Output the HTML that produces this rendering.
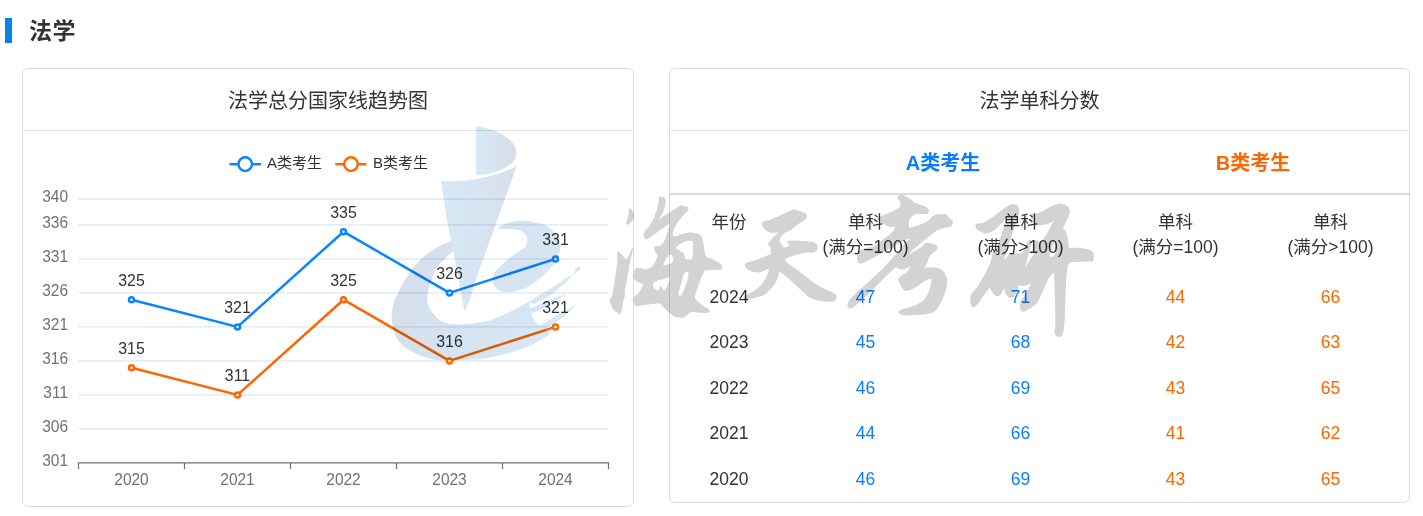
<!DOCTYPE html>
<html lang="zh-CN">
<head>
<meta charset="utf-8">
<title>法学</title>
<style>
html,body{margin:0;padding:0;background:#fff;}
body{width:1423px;height:516px;position:relative;overflow:hidden;font-family:"Liberation Sans","Noto Sans CJK SC",sans-serif;color:#333;}
.abs{position:absolute;}
.bar{left:5px;top:18px;width:7px;height:25px;background:#0a82ee;}
.h1{left:29px;top:15px;font-size:23px;letter-spacing:0.5px;font-weight:bold;line-height:32px;color:#333;white-space:nowrap;}
.card{position:absolute;border:1px solid #dcdcdc;border-radius:6px;box-sizing:border-box;}
#c1{left:22px;top:68px;width:612px;height:439px;}
#c2{left:669px;top:68px;width:741px;height:435px;}
.hline{position:absolute;height:1px;background:#dfdfdf;}
.t{position:absolute;white-space:nowrap;text-align:center;}
.title{font-size:20px;line-height:24px;color:#333;}
.th{font-size:17.5px;line-height:24.5px;color:#333;}
.td{font-size:17.5px;line-height:25px;}
.hd{font-size:20px;line-height:24px;font-weight:bold;}
.blue{color:#0a7dff;}
.orange{color:#ff6600;}
</style>
</head>
<body>
<div class="abs bar"></div>
<div class="abs h1">法学</div>
<div class="card" id="c1"></div>
<div class="card" id="c2"></div>
<div class="t title" style="left:22px;width:612px;top:89px;">法学总分国家线趋势图</div>
<div class="hline" style="left:24px;width:608px;top:130px;"></div>
<svg class="abs" style="left:0;top:0" width="1423" height="516" viewBox="0 0 1423 516">
<g stroke="#E0E6F1" stroke-width="1.25" fill="none">
<line x1="78.5" x2="608.5" y1="199.00" y2="199.00"/>
<line x1="78.5" x2="608.5" y1="224.90" y2="224.90"/>
<line x1="78.5" x2="608.5" y1="258.90" y2="258.90"/>
<line x1="78.5" x2="608.5" y1="292.90" y2="292.90"/>
<line x1="78.5" x2="608.5" y1="326.90" y2="326.90"/>
<line x1="78.5" x2="608.5" y1="360.90" y2="360.90"/>
<line x1="78.5" x2="608.5" y1="394.90" y2="394.90"/>
<line x1="78.5" x2="608.5" y1="428.90" y2="428.90"/>
</g>
<g stroke="#6E7079" stroke-width="1.25" fill="none">
<line x1="77.9" x2="609.1" y1="462.9" y2="462.9"/>
<line x1="78.5" x2="78.5" y1="462.9" y2="469"/>
<line x1="184.5" x2="184.5" y1="462.9" y2="469"/>
<line x1="290.5" x2="290.5" y1="462.9" y2="469"/>
<line x1="396.5" x2="396.5" y1="462.9" y2="469"/>
<line x1="502.5" x2="502.5" y1="462.9" y2="469"/>
<line x1="608.5" x2="608.5" y1="462.9" y2="469"/>
</g>
<g font-family="Liberation Sans, Noto Sans CJK SC, sans-serif">
<text transform="translate(68 202.4) scale(1 1.05)" text-anchor="end" fill="#6E7079" font-size="15.5">340</text>
<text transform="translate(68 228.3) scale(1 1.05)" text-anchor="end" fill="#6E7079" font-size="15.5">336</text>
<text transform="translate(68 262.3) scale(1 1.05)" text-anchor="end" fill="#6E7079" font-size="15.5">331</text>
<text transform="translate(68 296.3) scale(1 1.05)" text-anchor="end" fill="#6E7079" font-size="15.5">326</text>
<text transform="translate(68 330.3) scale(1 1.05)" text-anchor="end" fill="#6E7079" font-size="15.5">321</text>
<text transform="translate(68 364.3) scale(1 1.05)" text-anchor="end" fill="#6E7079" font-size="15.5">316</text>
<text transform="translate(68 398.3) scale(1 1.05)" text-anchor="end" fill="#6E7079" font-size="15.5">311</text>
<text transform="translate(68 432.3) scale(1 1.05)" text-anchor="end" fill="#6E7079" font-size="15.5">306</text>
<text transform="translate(68 466.3) scale(1 1.05)" text-anchor="end" fill="#6E7079" font-size="15.5">301</text>
<text transform="translate(131.5 484.5) scale(1 1.05)" text-anchor="middle" fill="#6E7079" font-size="15.5">2020</text>
<text transform="translate(237.5 484.5) scale(1 1.05)" text-anchor="middle" fill="#6E7079" font-size="15.5">2021</text>
<text transform="translate(343.5 484.5) scale(1 1.05)" text-anchor="middle" fill="#6E7079" font-size="15.5">2022</text>
<text transform="translate(449.5 484.5) scale(1 1.05)" text-anchor="middle" fill="#6E7079" font-size="15.5">2023</text>
<text transform="translate(555.5 484.5) scale(1 1.05)" text-anchor="middle" fill="#6E7079" font-size="15.5">2024</text>
</g>
<g fill="#fff" stroke-width="2.5">
<line x1="229.5" x2="261" y1="164.2" y2="164.2" stroke="#0a84ff"/>
<circle cx="245.2" cy="164.1" r="6.8" stroke="#0a84ff"/>
<line x1="335.3" x2="366.5" y1="164.2" y2="164.2" stroke="#ff6600"/>
<circle cx="351" cy="164.1" r="6.8" stroke="#ff6600"/>
</g>
<g font-family="Liberation Sans, Noto Sans CJK SC, sans-serif" font-size="15" fill="#333"><text x="267" y="168">A类考生</text><text x="373" y="168">B类考生</text></g>
<polyline fill="none" stroke="#0a84ff" stroke-width="2.5" stroke-linejoin="round" points="131.5,299.70 237.5,326.90 343.5,231.70 449.5,292.90 555.5,258.90"/>
<polyline fill="none" stroke="#ff6600" stroke-width="2.5" stroke-linejoin="round" points="131.5,367.70 237.5,394.90 343.5,299.70 449.5,360.90 555.5,326.90"/>
<g fill="#fff" stroke="#0a84ff" stroke-width="2.5">
<circle cx="131.5" cy="299.70" r="2.5"/>
<circle cx="237.5" cy="326.90" r="2.5"/>
<circle cx="343.5" cy="231.70" r="2.5"/>
<circle cx="449.5" cy="292.90" r="2.5"/>
<circle cx="555.5" cy="258.90" r="2.5"/>
</g>
<g fill="#fff" stroke="#ff6600" stroke-width="2.5">
<circle cx="131.5" cy="367.70" r="2.5"/>
<circle cx="237.5" cy="394.90" r="2.5"/>
<circle cx="343.5" cy="299.70" r="2.5"/>
<circle cx="449.5" cy="360.90" r="2.5"/>
<circle cx="555.5" cy="326.90" r="2.5"/>
</g>
<g font-family="Liberation Sans, Noto Sans CJK SC, sans-serif">
<text transform="translate(131.5 286.1) scale(1.02 1.0)" text-anchor="middle" fill="#333" font-size="15.6">325</text>
<text transform="translate(237.5 313.3) scale(1.02 1.0)" text-anchor="middle" fill="#333" font-size="15.6">321</text>
<text transform="translate(343.5 218.1) scale(1.02 1.0)" text-anchor="middle" fill="#333" font-size="15.6">335</text>
<text transform="translate(449.5 279.3) scale(1.02 1.0)" text-anchor="middle" fill="#333" font-size="15.6">326</text>
<text transform="translate(555.5 245.3) scale(1.02 1.0)" text-anchor="middle" fill="#333" font-size="15.6">331</text>
<text transform="translate(131.5 354.1) scale(1.02 1.0)" text-anchor="middle" fill="#333" font-size="15.6">315</text>
<text transform="translate(237.5 381.3) scale(1.02 1.0)" text-anchor="middle" fill="#333" font-size="15.6">311</text>
<text transform="translate(343.5 286.1) scale(1.02 1.0)" text-anchor="middle" fill="#333" font-size="15.6">325</text>
<text transform="translate(449.5 347.3) scale(1.02 1.0)" text-anchor="middle" fill="#333" font-size="15.6">316</text>
<text transform="translate(555.5 313.3) scale(1.02 1.0)" text-anchor="middle" fill="#333" font-size="15.6">321</text>
</g>
</svg>
<div class="t title" style="left:669px;width:741px;top:89px;">法学单科分数</div>
<div class="hline" style="left:670px;width:739px;top:130px;"></div>
<div class="t hd blue" style="left:788px;width:310px;top:151px;">A类考生</div>
<div class="t hd orange" style="left:1098px;width:310px;top:151px;">B类考生</div>
<div class="hline" style="left:670px;width:739px;top:193px;height:2px;background:#dadada;"></div>
<div class="t th" style="left:670px;width:118px;top:210.3px;">年份</div>
<div class="t th" style="left:788px;width:155px;top:210.3px;">单科<br>(满分=100)</div>
<div class="t th" style="left:943px;width:155px;top:210.3px;">单科<br>(满分&gt;100)</div>
<div class="t th" style="left:1098px;width:155px;top:210.3px;">单科<br>(满分=100)</div>
<div class="t th" style="left:1253px;width:155px;top:210.3px;">单科<br>(满分&gt;100)</div>
<div class="t td" style="left:670px;width:118px;top:285.2px;">2024</div>
<div class="t td blue" style="left:788px;width:155px;top:285.2px;">47</div>
<div class="t td blue" style="left:943px;width:155px;top:285.2px;">71</div>
<div class="t td orange" style="left:1098px;width:155px;top:285.2px;">44</div>
<div class="t td orange" style="left:1253px;width:155px;top:285.2px;">66</div>
<div class="t td" style="left:670px;width:118px;top:330.2px;">2023</div>
<div class="t td blue" style="left:788px;width:155px;top:330.2px;">45</div>
<div class="t td blue" style="left:943px;width:155px;top:330.2px;">68</div>
<div class="t td orange" style="left:1098px;width:155px;top:330.2px;">42</div>
<div class="t td orange" style="left:1253px;width:155px;top:330.2px;">63</div>
<div class="t td" style="left:670px;width:118px;top:376.0px;">2022</div>
<div class="t td blue" style="left:788px;width:155px;top:376.0px;">46</div>
<div class="t td blue" style="left:943px;width:155px;top:376.0px;">69</div>
<div class="t td orange" style="left:1098px;width:155px;top:376.0px;">43</div>
<div class="t td orange" style="left:1253px;width:155px;top:376.0px;">65</div>
<div class="t td" style="left:670px;width:118px;top:421.0px;">2021</div>
<div class="t td blue" style="left:788px;width:155px;top:421.0px;">44</div>
<div class="t td blue" style="left:943px;width:155px;top:421.0px;">66</div>
<div class="t td orange" style="left:1098px;width:155px;top:421.0px;">41</div>
<div class="t td orange" style="left:1253px;width:155px;top:421.0px;">62</div>
<div class="t td" style="left:670px;width:118px;top:467.0px;">2020</div>
<div class="t td blue" style="left:788px;width:155px;top:467.0px;">46</div>
<div class="t td blue" style="left:943px;width:155px;top:467.0px;">69</div>
<div class="t td orange" style="left:1098px;width:155px;top:467.0px;">43</div>
<div class="t td orange" style="left:1253px;width:155px;top:467.0px;">65</div>

<svg class="abs" style="left:0;top:0;mix-blend-mode:multiply;pointer-events:none" width="1423" height="516" viewBox="0 0 1423 516">
<defs>
<linearGradient id="gc" gradientUnits="userSpaceOnUse" x1="441" y1="0" x2="517" y2="0"><stop offset="0" stop-color="#d6e9f6"/><stop offset="1" stop-color="#d9dfec"/></linearGradient>
<linearGradient id="gd" gradientUnits="userSpaceOnUse" x1="476" y1="0" x2="517" y2="0"><stop offset="0" stop-color="#d7e9f5"/><stop offset="1" stop-color="#d9dcea"/></linearGradient>
<linearGradient id="ga" gradientUnits="userSpaceOnUse" x1="395" y1="260" x2="560" y2="340"><stop offset="0" stop-color="#d5deec"/><stop offset="1" stop-color="#d7e8f5"/></linearGradient>
</defs>
<path fill="url(#gd)" d="M476,126 C490,128.5 503,133 510,140 C516,146 518,152 515,159 C511,166 500,171 488,174 L476,175.5 Z"/>
<path fill="url(#ga)" d="M451.7,241.1 C437,246 425,254 417,263.5 C411,270 404,280 398,293.3 C392,303 388.5,319 395.8,337 C402,348 418,357 436,359.8 C452,361 466,360 480,359 C500,356 515,352 529.4,346 C538,342 545,338 550,334 L540,326 C532,320 530,312 529,301.5 C515,309 500,318 485,321.8 C472,324 460,325 450,324 C441,322 436,318 432,312 C428,306 427,302 427.3,298.8 C427.5,292 429,285 434.8,271.6 C438,265 441,262 444.3,259.4 C447,256 450,254 453.1,251.3 Z"/>
<path fill="url(#ga)" d="M528,302 C538,296 552,288 562,281 C568,277 572,275 574,274 C570,279 562,286 552,294 C546,298 540,301 534,304 Z"/>
<path fill="url(#ga)" d="M576,268 C578,266.5 580,266 581,267 C580,270 577,272.5 574,274 Z"/>
<path fill="url(#ga)" d="M522,312 C535,306 550,300 566,293.5 C560,299 550,305 540,310 C534,313 528,315 524,316 Z"/>
<path fill="url(#ga)" d="M538,327 C550,319 563,312 576.5,304.5 C570,312 560,320 550,326 C546,329 543,331 541,332 Z"/>
<path fill="url(#ga)" d="M499,227 C507,222 516,220.5 524,220.8 C536,221.5 546,224 552,230 C558,236 561,243 560,250 C559,259 553,266 546,273 C540,279 533,284 526,288 C518,291 510,292.5 504,292 C498,291 494,287 493,283 C492,278 493,274 495.7,271 C499,268 503,264 506.2,260.8 C513,255 521,250 525.4,246.9 C528,243 528,238 526,235 C523,231 518,229.5 513,229.2 C508,229 503,229 499,229.4 Z"/>
<path fill="url(#gc)" d="M441,181 C470,182.5 497,176.5 516.7,166 L475.6,280 L469.8,300 L464.4,311.4 L462.4,300 L458,275 L453,250 L447,220 Z"/>
</svg>

<svg class="abs wm" style="left:0;top:0;mix-blend-mode:multiply;pointer-events:none" width="1423" height="516" viewBox="0 0 1423 516">
<g font-size="130" fill="#d3d3d3" stroke="#d3d3d3" stroke-linejoin="round">
<text x="100" y="250" font-family="Zhi Mang Xing, Noto Serif CJK SC, serif" stroke-width="0.5" transform="translate(495.42 4.46) scale(1.0762 1.2729)">海</text>
<text x="100" y="250" font-family="Zhi Mang Xing, Noto Serif CJK SC, serif" stroke-width="2" transform="translate(629.26 70.78) scale(1.0154 0.9343)">天</text>
<text x="100" y="250" font-family="Zhi Mang Xing, Noto Serif CJK SC, serif" stroke-width="2" transform="translate(698.54 36.93) scale(1.2723 1.0991)">考</text>
<text x="100" y="250" font-family="Zhi Mang Xing, Noto Serif CJK SC, serif" stroke-width="2" transform="translate(854.94 6.46) scale(1.1171 1.332)">研</text>
</g>
</svg>

</body>
</html>
